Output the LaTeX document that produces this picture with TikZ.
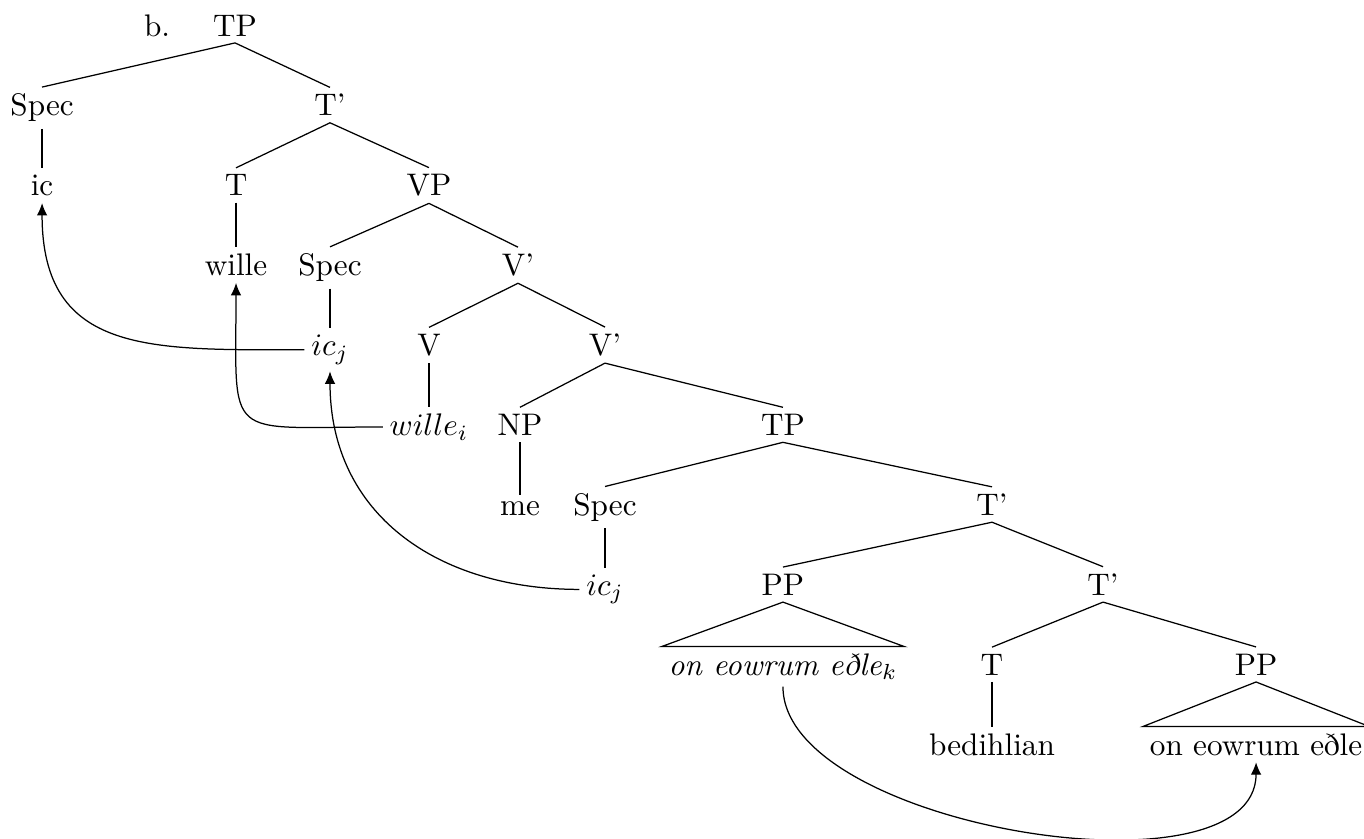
\documentclass[tikz,border=0pt]{standalone}
\usepackage{amsmath}
\usetikzlibrary{positioning, arrows.meta}

\begin{document}
\begin{tikzpicture}[node distance=0.9cm,on grid,
    lbl/.style={anchor=base,inner sep=2pt}]

  \useasboundingbox (-2.648,-9.035) rectangle (12.719,0.406);

  \node[lbl] (tp_1) at (0,0) {TP};
  \node[left=0.879cm of tp_1.base,lbl]                      (ex)     {b.};
  \node[below left=0.9cm and 2.174cm of tp_1.base,lbl]      (spec_1) {Spec};
  \node[below right=0.9cm and 1.07cm of tp_1.base,lbl]      (tbar_1) {T'};
  \node[below=of spec_1.base,lbl]                           (ic)     {ic};
  \node[below left=0.9cm and 1.059cm of tbar_1.base,lbl]    (t_1)    {T};
  \node[below right=0.9cm and 1.115cm of tbar_1.base,lbl]   (vp_1)   {VP};
  \node[below=of t_1.base,lbl]                              (wille)  {wille};
  \node[below left=0.9cm and 1.115cm of vp_1.base,lbl]      (spec_2) {Spec};
  \node[below right=0.9cm and 1.003cm of vp_1.base,lbl]     (vbar_1) {V'};
  \node[below=of spec_2.base,lbl]                           (icj_1)  {$ic_j$};
  \node[below left=0.9cm and 1.003cm of vbar_1.base,lbl]    (v_1)    {V};
  \node[below right=0.9cm and 0.98cm of vbar_1.base,lbl]    (vbar_2) {V'};
  \node[below=of v_1.base,lbl]                              (willei) {$wille_i$};
  \node[below left=0.9cm and 0.958cm of vbar_2.base,lbl]    (np_1)   {NP};
  \node[below right=0.9cm and 2.005cm of vbar_2.base,lbl]   (tp_2)   {TP};
  \node[below=of np_1.base,lbl]                             (me)     {me};
  \node[below left=0.9cm and 2.005cm of tp_2.base,lbl]      (spec_3) {Spec};
  \node[below right=0.9cm and 2.355cm of tp_2.base,lbl]     (tbar_2) {T'};
  \node[below=of spec_3.base,lbl]                           (icj_2)  {$ic_j$};
  \node[below left=0.9cm and 2.355cm of tbar_2.base,lbl]    (pp_1)   {PP};
  \node[below right=0.9cm and 1.251cm of tbar_2.base,lbl]   (tbar_3) {T'};
  \node[below=of pp_1.base,lbl]                             (pp_k)   {\textit{on eowrum eðle}$_k$};
  \node[below left=0.9cm and 1.251cm of tbar_3.base,lbl]    (t_2)    {T};
  \node[below right=0.9cm and 1.724cm of tbar_3.base,lbl]   (pp_2)   {PP};
  \node[below=of t_2.base,lbl]                              (bed)    {bedihlian};
  \node[below=of pp_2.base,lbl]                             (pp_t)   {on eowrum eðle};

  \path (tp_1.south)   edge (spec_1.north)
        (tp_1.south)   edge (tbar_1.north)
        (spec_1.south) edge (ic.north)
        (tbar_1.south) edge (t_1.north)
        (tbar_1.south) edge (vp_1.north)
        (t_1.south)    edge (wille.north)
        (vp_1.south)   edge (spec_2.north)
        (vp_1.south)   edge (vbar_1.north)
        (spec_2.south) edge (icj_1.north)
        (vbar_1.south) edge (v_1.north)
        (vbar_1.south) edge (vbar_2.north)
        (v_1.south)    edge (willei.north)
        (vbar_2.south) edge (np_1.north)
        (vbar_2.south) edge (tp_2.north)
        (np_1.south)   edge (me.north)
        (tp_2.south)   edge (spec_3.north)
        (tp_2.south)   edge (tbar_2.north)
        (spec_3.south) edge (icj_2.north)
        (tbar_2.south) edge (pp_1.north)
        (tbar_2.south) edge (tbar_3.north)
        (tbar_3.south) edge (t_2.north)
        (tbar_3.south) edge (pp_2.north)
        (t_2.south)    edge (bed.north);

  % roofs
  \draw (pp_1.south) -- (pp_k.north west) -- (pp_k.north east) -- cycle;
  \draw (pp_2.south) -- (pp_t.north west) -- (pp_t.north east) -- cycle;

  % movement
  \path[-{Latex[length=4pt,width=3.4pt]}]
        (icj_1.west)  edge [out=180,in=-90,looseness=1.3]  (ic.south)
        (willei.west) edge [out=180,in=-90,looseness=2]    (wille.south)
        (icj_2.west)  edge [out=180,in=-90,looseness=1.1]  (icj_1.south)
        (pp_k.south)  edge [out=-90,in=-90,looseness=0.75] (pp_t.south);
\end{tikzpicture}
\end{document}
